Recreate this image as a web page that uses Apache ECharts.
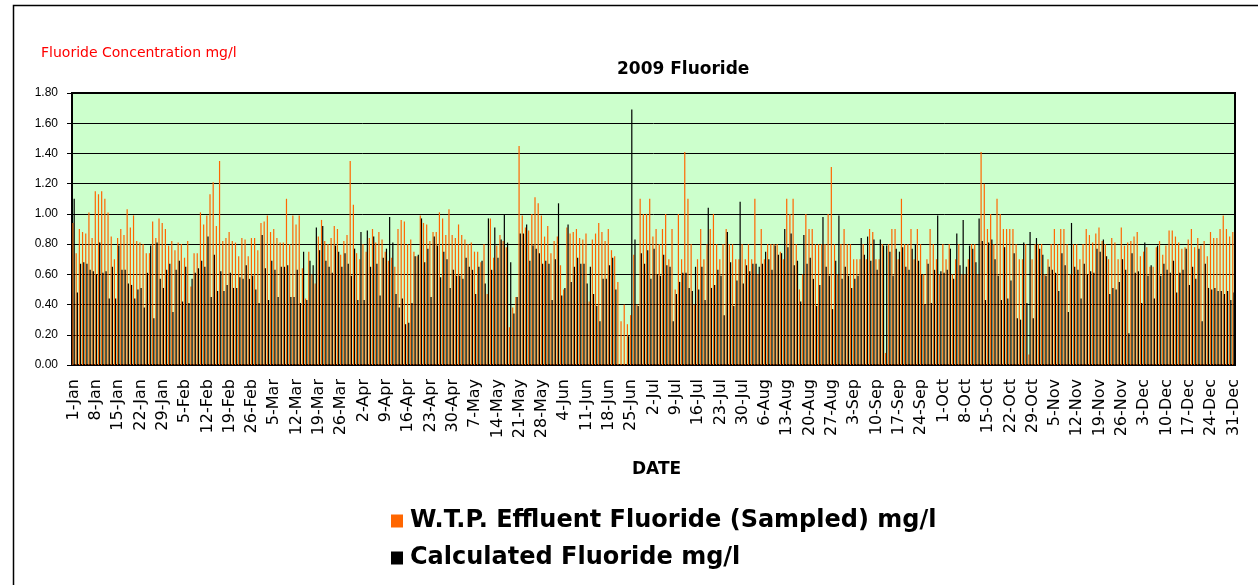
<!DOCTYPE html>
<html>
<head>
<meta charset="utf-8">
<script src="https://cdn.jsdelivr.net/npm/echarts@6/dist/echarts.min.js"></script>
<style>
  html, body { margin: 0; padding: 0; background: #fff; }
  #chart { width: 1258px; height: 585px; }
</style>
</head>
<body>
<div id="chart"></div>
<script>
// daily values for 2009 (mg/l)
var monthNames = ['Jan', 'Feb', 'Mar', 'Apr', 'May', 'Jun', 'Jul', 'Aug', 'Sep', 'Oct', 'Nov', 'Dec'];
var monthDays = [31, 28, 31, 30, 31, 30, 31, 31, 30, 31, 30, 31];

var sampled = [
  0.94,0.74,0.90,0.88,0.87,1.01,0.84,1.15,1.13,1.15,1.10,1.01,0.85,0.70,0.84,0.90,0.86,1.03,0.91,0.99,0.82,0.81,0.80,0.74,0.74,0.95,0.84,0.97,0.94,0.90,0.79,0.82,0.76,0.81,0.80,0.71,
  0.82,0.52,0.74,0.74,1.01,0.93,0.99,1.13,1.21,0.92,1.35,0.82,0.84,0.88,0.82,0.81,0.72,0.84,0.83,0.72,0.84,0.84,0.76,0.94,0.95,0.99,0.88,0.90,0.84,0.81,0.81,1.10,0.80,0.99,0.93,0.99,
  0.64,0.44,0.75,0.60,0.54,0.85,0.96,0.82,0.80,0.84,0.92,0.90,0.73,0.82,0.86,1.35,1.06,0.74,0.70,0.80,0.75,0.84,0.90,0.81,0.88,0.83,0.75,0.69,0.71,0.65,0.90,0.96,0.95,0.80,0.83,0.75,
  0.72,0.99,0.94,0.93,0.82,0.88,0.88,1.01,0.97,0.86,1.03,0.86,0.84,0.93,0.86,0.83,0.80,0.81,0.75,0.75,0.68,0.80,0.47,0.97,0.71,0.79,0.86,0.82,0.78,0.25,0.38,0.45,1.45,0.99,0.91,0.89,1.00,
  1.11,1.07,0.99,0.85,0.92,0.74,0.82,0.85,0.66,0.50,0.91,0.87,0.88,0.90,0.84,0.83,0.87,0.42,0.83,0.87,0.94,0.88,0.82,0.90,0.76,0.72,0.55,0.29,0.40,0.27,0.33,0.73,0.40,1.10,1.00,1.00,1.10,
  0.85,0.90,0.80,0.90,1.00,0.70,0.90,0.50,1.00,0.70,1.41,1.10,0.80,0.40,0.70,0.90,0.70,0.80,0.90,1.00,0.80,0.70,0.80,0.90,0.80,0.80,0.70,0.70,0.80,0.70,0.80,0.70,1.10,0.60,0.90,0.70,0.80,
  0.80,0.80,0.80,0.75,0.70,1.10,1.00,1.10,0.80,0.50,0.60,1.00,0.90,0.90,0.80,0.80,0.80,0.80,1.00,1.31,0.80,0.60,0.80,0.90,0.80,0.80,0.70,0.70,0.70,0.80,0.70,0.90,0.88,0.70,0.70,0.80,0.08,
  0.80,0.90,0.90,0.70,1.10,0.80,0.80,0.90,0.70,0.90,0.80,0.60,0.70,0.90,0.80,0.70,0.60,0.80,0.70,0.80,0.60,0.70,0.80,0.60,0.60,0.70,0.80,0.80,0.60,1.41,1.20,0.90,1.00,0.80,1.10,1.00,
  0.90,0.90,0.90,0.90,0.80,0.70,0.70,0.80,0.07,0.70,0.80,0.80,0.80,0.60,0.70,0.80,0.90,0.80,0.90,0.90,0.80,0.60,0.80,0.80,0.70,0.80,0.90,0.86,0.81,0.87,0.91,0.82,0.80,0.70,0.84,0.81,0.70,
  0.91,0.79,0.81,0.82,0.85,0.88,0.72,0.75,0.78,0.65,0.65,0.78,0.82,0.73,0.79,0.89,0.89,0.85,0.81,0.77,0.78,0.83,0.90,0.78,0.84,0.79,0.82,0.72,0.88,0.84,0.84,0.90,0.99,0.90,0.85,0.88
];

var calculated = [
  1.10,0.48,0.67,0.68,0.67,0.63,0.62,0.60,0.81,0.61,0.62,0.44,0.65,0.44,0.79,0.63,0.63,0.54,0.53,0.44,0.50,0.51,0.38,0.61,0.79,0.31,0.81,0.57,0.51,0.63,0.67,0.35,0.63,0.69,0.42,0.65,
  0.41,0.57,0.61,0.64,0.69,0.65,0.85,0.45,0.73,0.49,0.62,0.49,0.53,0.61,0.51,0.51,0.58,0.57,0.66,0.57,0.59,0.50,0.41,0.86,0.64,0.43,0.69,0.63,0.45,0.65,0.65,0.66,0.45,0.45,0.63,0.41,
  0.75,0.43,0.69,0.66,0.91,0.76,0.92,0.69,0.65,0.61,0.79,0.75,0.65,0.74,0.67,0.59,0.77,0.43,0.88,0.43,0.89,0.65,0.85,0.67,0.46,0.71,0.77,0.98,0.81,0.47,0.38,0.44,0.27,0.28,0.41,0.72,
  0.73,0.97,0.68,0.77,0.45,0.85,0.79,0.58,0.75,0.70,0.51,0.63,0.59,0.59,0.57,0.71,0.65,0.63,0.47,0.65,0.69,0.54,0.97,0.63,0.91,0.71,0.83,1.00,0.81,0.68,0.34,0.45,0.87,0.87,0.93,0.69,0.79,
  0.77,0.74,0.67,0.69,0.67,0.43,0.70,1.07,0.46,0.51,0.93,0.55,0.65,0.71,0.67,0.67,0.54,0.65,0.47,0.39,0.29,0.57,0.57,0.66,0.71,0.50,0,0,0,0.19,1.69,0.83,0.39,0.74,0.67,0.76,0.57,
  0.77,0.60,0.59,0.73,0.66,0.65,0.29,0.47,0.55,0.61,0.61,0.51,0.49,0.65,0.50,0.65,0.43,1.04,0.51,0.53,0.63,0.59,0.33,0.88,0.68,0.39,0.56,1.08,0.54,0.66,0.62,0.67,0.67,0.65,0.67,0.75,0.70,
  0.63,0.79,0.73,0.74,0.90,0.78,0.87,0.66,0.69,0.42,0.86,0.67,0.71,0.57,0.39,0.53,0.98,0.65,0.59,0.37,0.69,0.99,0.57,0.65,0.59,0.51,0.57,0.59,0.84,0.73,0.85,0.69,0.83,0.63,0.83,0.79,0.79,
  0.75,0.59,0.77,0.75,0.78,0.65,0.63,0.77,0.80,0.69,0.60,0.40,0.67,0.41,0.63,0.99,0.62,0.61,0.63,0.77,0.57,0.87,0.66,0.96,0.65,0.79,0.77,0.68,0.97,0.82,0.43,0.81,0.83,0.70,0.59,0.43,
  0.78,0.44,0.56,0.74,0.31,0.30,0.81,0.41,0.88,0.31,0.84,0.77,0.73,0.59,0.65,0.63,0.61,0.49,0.74,0.66,0.35,0.94,0.65,0.63,0.44,0.67,0.60,0.62,0.61,0.77,0.75,0.83,0.72,0.47,0.51,0.50,0.55,
  0.70,0.63,0.21,0.74,0.61,0.62,0.41,0.81,0.59,0.66,0.44,0.79,0.59,0.67,0.63,0.61,0.69,0.48,0.61,0.63,0.77,0.53,0.65,0.57,0.77,0.29,0.67,0.51,0.50,0.51,0.49,0.49,0.47,0.49,0.43,0.48
];

// day labels 1-Jan .. 31-Dec
var dates = [];
for (var m = 0; m < 12; m++) {
  for (var d = 1; d <= monthDays[m]; d++) {
    dates.push(d + '-' + monthNames[m]);
  }
}

var font = 'DejaVu Sans, sans-serif';
var myChart = echarts.init(document.getElementById('chart'));

myChart.setOption({
  animation: false,
  title: {
    text: '2009 Fluoride',
    left: 612,
    top: 56,
    textStyle: { fontFamily: font, fontSize: 17, fontWeight: 'bold', color: '#000' }
  },
  graphic: [
    {
      type: 'rect',
      shape: { x: 13.5, y: 5.5, width: 1260, height: 600 },
      style: { fill: 'none', stroke: '#000', lineWidth: 1.5 },
      silent: true
    },
    {
      type: 'text',
      left: 41,
      top: 46,
      style: { text: 'Fluoride Concentration mg/l', fill: '#ff0000', font: '14px ' + font }
    },
    {
      type: 'text',
      left: 632,
      top: 461,
      style: { text: 'DATE', fill: '#000', font: 'bold 17px ' + font }
    }
  ],
  legend: {
    orient: 'vertical',
    left: 386,
    top: 504,
    itemWidth: 12,
    itemHeight: 13,
    itemGap: 13,
    icon: 'rect',
    data: ['W.T.P. Effluent Fluoride (Sampled) mg/l', 'Calculated Fluoride mg/l'],
    textStyle: { fontFamily: font, fontSize: 24, fontWeight: 'bold', color: '#000', padding: [0, 0, 0, 2] }
  },
  grid: {
    left: 72,
    right: 23,
    top: 93,
    bottom: 220,
    show: true,
    backgroundColor: '#ccffcc',
    borderColor: '#000',
    borderWidth: 2
  },
  xAxis: {
    type: 'category',
    data: dates,
    axisLine: { lineStyle: { color: '#000', width: 2 } },
    axisTick: { interval: 6, alignWithLabel: true, length: 5, lineStyle: { color: '#000' } },
    axisLabel: {
      interval: 6,
      rotate: 90,
      margin: 14,
      color: '#000',
      fontFamily: font,
      fontSize: 16
    }
  },
  yAxis: {
    type: 'value',
    min: 0,
    max: 1.8,
    interval: 0.2,
    axisLine: { show: true, lineStyle: { color: '#000', width: 2 } },
    axisTick: { show: true, length: 5, lineStyle: { color: '#000' } },
    splitLine: { lineStyle: { color: '#000', width: 1 } },
    axisLabel: {
      color: '#000',
      fontFamily: 'Liberation Sans, Arial, sans-serif',
      fontSize: 12,
      margin: 14,
      formatter: function (v) { return v.toFixed(2); }
    }
  },
  series: [
    {
      name: 'W.T.P. Effluent Fluoride (Sampled) mg/l',
      type: 'bar',
      data: sampled,
      barWidth: 1.2,
      barGap: '0%',
      itemStyle: { color: '#ff6600' }
    },
    {
      name: 'Calculated Fluoride mg/l',
      type: 'bar',
      data: calculated,
      barWidth: 1.2,
      barGap: '0%',
      itemStyle: { color: '#000000' }
    }
  ]
});
</script>
</body>
</html>
